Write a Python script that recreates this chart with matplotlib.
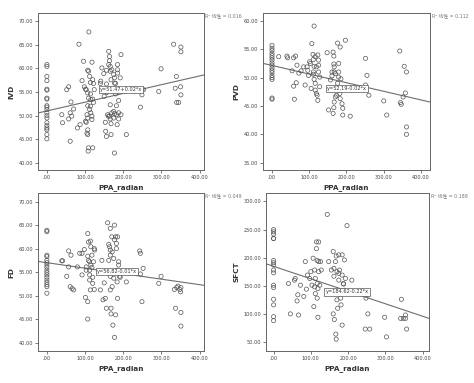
import matplotlib
matplotlib.use("Agg")
import matplotlib.pyplot as plt
import numpy as np

plt.rcParams['font.family'] = ['DejaVu Sans', 'Noto Sans CJK SC']

# ---------------- data ----------------
ivd_x = [0]*20 + [39, 41, 52, 57, 57, 61, 63, 65, 61, 70, 84, 80, 87, 92, 98, 101, 96, 110, 107, 109, 103, 107, 109, 107, 105, 107, 103, 101, 105, 107, 107, 109, 108, 112, 114, 114, 115, 114, 115, 112, 118, 120, 122, 120, 122, 118, 120, 118, 124, 144, 141, 140, 149, 150, 153, 154, 156, 156, 156, 157, 159, 161, 162, 164, 164, 162, 166, 166, 168, 170, 168, 166, 170, 164, 166, 168, 168, 175, 177, 177, 180, 180, 175, 177, 175, 177, 182, 182, 184, 185, 185, 185, 188, 188, 188, 194, 192, 194, 208, 245, 249, 253, 249, 293, 299, 332, 339, 336, 340, 345, 350, 351, 351, 351]
ivd_y = [60.8, 60.4, 58.3, 57.4, 55.6, 55.4, 53.7, 53.5, 52.1, 51.8, 51.3, 50.6, 50.0, 49.5, 48.5, 47.9, 47.4, 47.0, 46.0, 45.1,
         50.2, 48.5, 55.5, 56.1, 49.3, 50.6, 52.9, 49.9, 44.6, 51.4, 65.1, 47.4, 48.1, 57.4, 56.1, 55.6, 61.5, 67.7, 59.6, 59.4, 55.5, 54.8, 53.7, 52.1, 50.2, 49.5, 48.6, 48.8, 46.3, 46.0, 47.0, 43.2, 42.5, 58.3, 57.0, 54.6, 53.4, 52.0, 50.6, 51.3, 61.3, 57.6, 56.8, 53.5, 52.8, 49.2, 43.2, 49.9, 55.5, 60.1, 57.3, 56.8, 58.9, 54.1, 48.6, 46.7, 45.6, 59.6, 56.7, 54.9, 50.2, 49.9, 63.6, 62.5, 61.6, 60.8, 60.4, 59.4, 57.6, 59.7, 55.6, 52.3, 50.6, 49.9, 49.3, 48.3, 46.0, 58.7, 58.0, 56.9, 56.8, 54.6, 50.9, 50.4, 49.5, 42.1, 52.1, 50.2, 48.1, 60.8, 59.7, 59.0, 53.2, 50.6, 49.3, 62.9, 58.0, 50.2, 46.0, 51.8, 55.5, 55.5, 54.4, 55.1, 59.9, 65.1, 58.3, 55.8, 52.8, 52.8, 56.1, 64.5, 63.5, 54.4]

pvd_x = [0]*17 + [18, 40, 42, 54, 58, 63, 67, 72, 58, 60, 65, 78, 85, 89, 94, 96, 98, 101, 103, 105, 107, 110, 111, 113, 113, 111, 111, 113, 116, 119, 116, 116, 119, 121, 123, 123, 125, 125, 125, 128, 128, 148, 152, 157, 161, 161, 164, 166, 166, 167, 167, 170, 164, 166, 167, 170, 173, 176, 179, 179, 179, 176, 174, 179, 182, 183, 183, 185, 188, 190, 190, 197, 210, 251, 255, 251, 260, 300, 308, 343, 345, 347, 352, 355, 358, 361, 361, 361]
pvd_y = [55.7, 55.2, 54.8, 54.3, 53.9, 53.5, 53.1, 52.6, 52.2, 51.7, 51.3, 50.9, 50.4, 50.0, 49.7, 46.4, 46.2,
         53.7, 53.8, 53.5, 51.2, 53.5, 53.8, 52.2, 50.8, 48.5, 46.2, 49.1, 51.2, 51.9, 48.7, 51.9, 51.3, 50.4, 52.8, 52.5, 48.1, 56.0, 54.1, 53.2, 59.1, 52.0, 51.0, 50.6, 49.7, 53.7, 51.9, 49.0, 47.8, 47.2, 46.9, 46.0, 54.0, 53.1, 52.2, 51.0, 50.1, 48.4, 54.4, 44.3, 49.6, 51.0, 50.3, 54.5, 53.8, 52.4, 51.9, 51.0, 50.7, 43.7, 44.7, 45.7, 46.6, 46.9, 56.1, 52.5, 51.0, 50.1, 49.0, 48.3, 47.9, 47.2, 46.3, 55.4, 49.8, 45.4, 44.6, 43.4, 56.6, 43.2, 53.4, 50.4, 48.7, 46.9, 45.9, 43.4, 54.7, 45.6, 45.3, 46.6, 52.0, 47.3, 51.0, 41.3, 40.0]

fd_x = [0]*17 + [39, 41, 52, 57, 57, 63, 61, 66, 70, 80, 86, 92, 92, 98, 101, 103, 103, 107, 107, 107, 107, 109, 109, 112, 112, 112, 112, 114, 114, 115, 115, 118, 118, 120, 120, 122, 124, 124, 125, 140, 144, 147, 150, 153, 156, 159, 162, 162, 164, 166, 166, 166, 166, 166, 168, 168, 170, 171, 171, 173, 175, 175, 177, 177, 177, 180, 180, 182, 182, 184, 184, 185, 185, 188, 188, 190, 192, 208, 243, 245, 245, 249, 252, 293, 299, 334, 337, 340, 343, 350, 351, 351, 351, 348]
fd_y = [63.9, 63.6, 58.6, 58.3, 57.5, 57.0, 56.5, 56.0, 55.4, 54.9, 54.4, 53.9, 53.3, 52.8, 52.3, 51.9, 50.5,
        57.4, 57.4, 54.1, 59.5, 56.1, 58.6, 51.9, 51.5, 51.2, 56.1, 59.0, 59.0, 54.4, 59.8, 49.6, 56.1, 55.4, 58.4, 63.2, 48.7, 45.0, 61.4, 57.5, 57.2, 55.4, 54.4, 53.3, 61.6, 51.2, 56.5, 60.4, 58.6, 56.0, 53.9, 52.6, 57.2, 60.0, 51.3, 59.7, 51.2, 57.5, 49.1, 52.7, 49.4, 47.3, 65.5, 57.5, 60.9, 60.4, 64.3, 59.7, 58.6, 54.1, 51.2, 47.3, 46.1, 62.5, 59.3, 51.9, 43.7, 57.9, 53.7, 65.0, 61.9, 41.1, 62.5, 45.9, 61.1, 60.0, 55.4, 52.9, 62.5, 49.4, 57.2, 56.5, 54.1, 53.9, 52.9, 59.5, 59.0, 54.6, 48.7, 55.8, 52.6, 54.1, 51.3, 47.3, 51.7, 52.0, 50.8, 43.5, 51.7, 46.4, 51.3]

sfct_x = [0]*16 + [40, 45, 56, 58, 63, 65, 67, 72, 81, 85, 88, 91, 97, 100, 103, 106, 108, 110, 110, 112, 112, 115, 115, 117, 117, 117, 119, 119, 121, 121, 121, 124, 126, 128, 144, 148, 155, 160, 162, 162, 160, 163, 166, 166, 168, 167, 168, 170, 170, 172, 175, 175, 175, 177, 180, 181, 184, 184, 184, 187, 188, 190, 190, 193, 197, 210, 246, 248, 253, 246, 258, 298, 303, 343, 341, 348, 354, 354, 357]
sfct_y = [250, 246, 242, 234, 195, 191, 187, 178, 173, 151, 147, 126, 116, 95, 88, 234,
          154, 100, 160, 163, 123, 134, 98, 151, 131, 193, 144, 169, 163, 175, 151, 199, 113, 148, 178, 163, 136, 228, 216, 195, 154, 128, 94, 145, 228, 175, 193, 151, 193, 178, 277, 193, 178, 211, 181, 167, 100, 90, 193, 136, 203, 64, 55, 175, 125, 110, 172, 205, 160, 178, 128, 116, 205, 169, 80, 154, 153, 196, 142, 163, 257, 160, 134, 128, 100, 73, 73, 94, 59, 126, 92, 92, 92, 98, 73]

panels = [
    dict(x=ivd_x, y=ivd_y, ylabel="IVD", ylim=(38.5, 71.7), xlim=(-23.5, 411),
         yticks=[40, 45, 50, 55, 60, 65, 70], icpt=51.0, slope=0.0185,
         eq="y=51.47+0.02*x", eqpos=(194, 55.5), r2="0.016",
         pos=[0.080, 0.556, 0.350, 0.410]),
    dict(x=pvd_x, y=pvd_y, ylabel="PVD", ylim=(33.7, 61.4), xlim=(-24, 424),
         yticks=[35, 40, 45, 50, 55, 60], icpt=52.15, slope=-0.0152,
         eq="y=52.19-0.02*x", eqpos=(201, 48.1), r2="0.112",
         pos=[0.555, 0.556, 0.352, 0.410]),
    dict(x=fd_x, y=fd_y, ylabel="FD", ylim=(38.2, 71.8), xlim=(-23.5, 411),
         yticks=[40, 45, 50, 55, 60, 65, 70], icpt=57.0, slope=-0.0117,
         eq="y=56.82-0.01*x", eqpos=(184, 55.1), r2="0.049",
         pos=[0.080, 0.0836, 0.350, 0.412]),
    dict(x=sfct_x, y=sfct_y, ylabel="SFCT", ylim=(34, 314.7), xlim=(-20.6, 417),
         yticks=[50, 100, 150, 200, 250, 300], icpt=184.6, slope=-0.222,
         eq="y=184.62-0.22*x", eqpos=(197, 139), r2="0.188",
         pos=[0.561, 0.0836, 0.344, 0.412]),
]

xticks = [0, 100, 200, 300, 400]
xticklabels = [".00", "100.00", "200.00", "300.00", "400.00"]

fig = plt.figure(figsize=(4.74, 3.83), dpi=100)
fig.patch.set_facecolor("white")

for p in panels:
    ax = fig.add_axes(p["pos"])
    ax.scatter(p["x"], p["y"], s=9, facecolors="none", edgecolors="#555555",
               linewidths=0.5, zorder=3)
    xl = np.array(p["xlim"])
    ax.plot(xl, p["icpt"] + p["slope"] * xl, color="#6e6e6e", lw=0.8, zorder=2)
    ax.set_xlim(*p["xlim"])
    ax.set_ylim(*p["ylim"])
    ax.set_xticks(xticks)
    ax.set_xticklabels(xticklabels)
    ax.set_yticks(p["yticks"])
    ax.set_yticklabels([f"{v:.2f}" for v in p["yticks"]])
    ax.tick_params(labelsize=3.6, length=2, width=0.5, pad=1.5, colors="#444444")
    for sp in ax.spines.values():
        sp.set_linewidth(0.7)
        sp.set_color("#666666")
    ax.set_xlabel("PPA_radian", fontsize=5.2, fontweight="bold", labelpad=3, color="#333333")
    ax.set_ylabel(p["ylabel"], fontsize=5.2, fontweight="bold", labelpad=3, color="#333333")
    ax.text(p["eqpos"][0], p["eqpos"][1], p["eq"], fontsize=3.6, ha="center", va="center",
            color="#333333", zorder=5,
            bbox=dict(boxstyle="square,pad=0.25", fc="white", ec="#555555", lw=0.5))
    ax.text(1.01, 0.985, "R² 线性 = " + p["r2"], transform=ax.transAxes, fontsize=3.4,
            ha="left", va="center", color="#777777")

fig.savefig("out.png", dpi=100, facecolor="white")
